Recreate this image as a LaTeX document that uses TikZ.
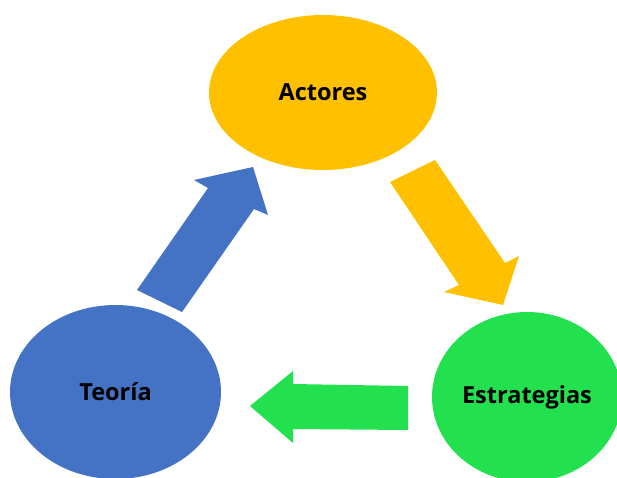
\documentclass[tikz,border=0pt]{standalone}
\usepackage{fontspec}
\setmainfont{Open Sans}
\usetikzlibrary{shapes.geometric}
\definecolor{amarillo}{RGB}{255,192,0}
\definecolor{azul}{RGB}{68,114,196}
\definecolor{verde}{RGB}{35,224,78}
\tikzset{
	circulo/.style={ellipse, inner sep=0pt, text=black, font=\bfseries\fontsize{23.5}{28}\selectfont},
	flecha/.style={draw=none}
}

\begin{document}
\begin{tikzpicture}[x=1pt,y=-1pt]
		\useasboundingbox (0,0) rectangle (617,477);
		\clip (0,0) rectangle (617,477);
		% elipses
		\node [circulo, fill=amarillo, minimum width=228pt, minimum height=155pt] (actores) at (323,92.5) {Actores};
		\node [circulo, fill=azul, minimum width=211pt, minimum height=174pt] (teoria) at (115.5,392) {Teoría};
		\node [circulo, fill=verde, minimum width=190pt, minimum height=170pt] (estrategias) at (527,397) {Estrategias};
		% flechas
		\fill [flecha, azul] (137,290) -- (208,188) -- (194,180) -- (253,167) -- (268,215) -- (254,209) -- (182,312) -- cycle;
		\fill [flecha, amarillo] (390,182) -- (459,285) -- (444,292) -- (503,305) -- (519,256) -- (505,263) -- (435,160) -- cycle;
		\fill [flecha, verde] (408,386) -- (293,384) -- (293,371) -- (250,406) -- (293,443) -- (293,429) -- (408,430) -- cycle;
	\end{tikzpicture}
\end{document}
